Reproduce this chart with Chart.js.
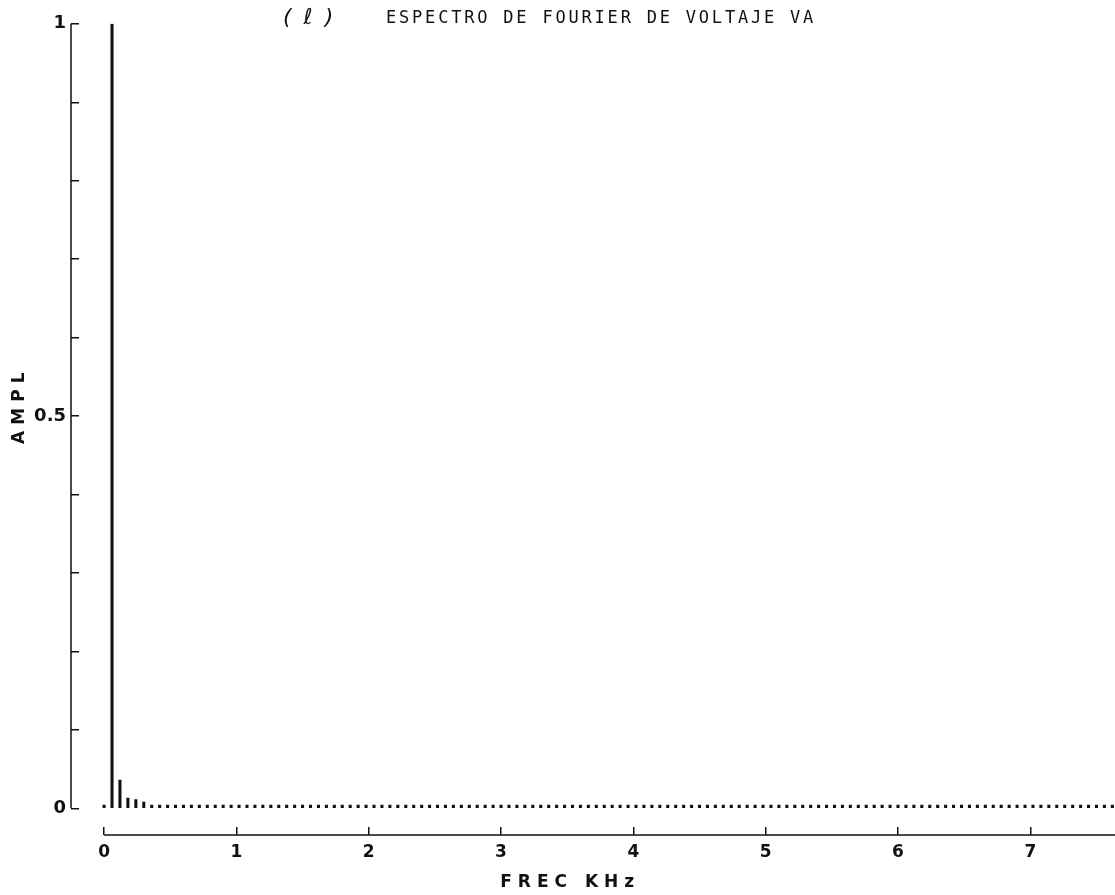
<!DOCTYPE html>
<html>
<head>
<meta charset="utf-8">
<script src="https://cdn.jsdelivr.net/npm/chart.js@4/dist/chart.umd.min.js"></script>
<style>
  body { margin: 0; background: #fff; }
  #spectro { display: block; }
</style>
</head>
<body>
<canvas id="spectro" width="1115" height="895"></canvas>
<script>
// espectro de Fourier del voltaje VA, armonicos de 60 Hz
const fundamentalKHz = 0.06;
const amplitudes = [
    0.004, 1.0, 0.036, 0.013, 0.011, 0.008, 0.004, 0.004,
    0.004, 0.004, 0.004, 0.004, 0.004, 0.004, 0.004, 0.004,
    0.004, 0.004, 0.004, 0.004, 0.004, 0.004, 0.004, 0.004,
    0.004, 0.004, 0.004, 0.004, 0.004, 0.004, 0.004, 0.004,
    0.004, 0.004, 0.004, 0.004, 0.004, 0.004, 0.004, 0.004,
    0.004, 0.004, 0.004, 0.004, 0.004, 0.004, 0.004, 0.004,
    0.004, 0.004, 0.004, 0.004, 0.004, 0.004, 0.004, 0.004,
    0.004, 0.004, 0.004, 0.004, 0.004, 0.004, 0.004, 0.004,
    0.004, 0.004, 0.004, 0.004, 0.004, 0.004, 0.004, 0.004,
    0.004, 0.004, 0.004, 0.004, 0.004, 0.004, 0.004, 0.004,
    0.004, 0.004, 0.004, 0.004, 0.004, 0.004, 0.004, 0.004,
    0.004, 0.004, 0.004, 0.004, 0.004, 0.004, 0.004, 0.004,
    0.004, 0.004, 0.004, 0.004, 0.004, 0.004, 0.004, 0.004,
    0.004, 0.004, 0.004, 0.004, 0.004, 0.004, 0.004, 0.004,
    0.004, 0.004, 0.004, 0.004, 0.004, 0.004, 0.004, 0.004,
    0.004, 0.004, 0.004, 0.004, 0.004, 0.004, 0.004, 0.004
];
const xTicks = [0, 1, 2, 3, 4, 5, 6, 7];
const xTickLabels = ['0', '1', '2', '3', '4', '5', '6', '7'];
const yTicks = [0, 0.1, 0.2, 0.3, 0.4, 0.5, 0.6, 0.7, 0.8, 0.9, 1];
const yTickLabels = ['0', '', '', '', '', '0.5', '', '', '', '', '1'];

const puntos = amplitudes.map((a, n) => ({ x: n * fundamentalKHz, y: a }));

// ejes dibujados a mano como en el trazador
const ejes = {
    id: 'ejes',
    afterDraw(chart) {
        const ctx = chart.ctx;
        const x = chart.scales.x;
        const y = chart.scales.y;
        const area = chart.chartArea;
        ctx.save();
        ctx.strokeStyle = '#111';
        ctx.lineWidth = 1.5;
        ctx.beginPath();
        ctx.moveTo(area.left, y.getPixelForValue(1));
        ctx.lineTo(area.left, y.getPixelForValue(0));
        ctx.moveTo(x.getPixelForValue(0), area.bottom);
        ctx.lineTo(area.right, area.bottom);
        ctx.stroke();

        ctx.fillStyle = '#111';
        // titulo
        ctx.font = 'italic 22px "DejaVu Sans"';
        ctx.letterSpacing = '12px';
        ctx.textBaseline = 'middle';
        ctx.textAlign = 'left';
        ctx.fillText('(ℓ)', 283, 18);
        ctx.font = '17px "DejaVu Sans Mono"';
        ctx.letterSpacing = '2.8px';
        ctx.fillText('ESPECTRO DE FOURIER DE VOLTAJE VA', 386, 19);

        // titulos de ejes
        ctx.font = 'bold 17px "DejaVu Sans"';
        ctx.letterSpacing = '6px';
        ctx.textAlign = 'center';
        ctx.fillText('FREC KHz', x.getPixelForValue(3.5) + 3, 883);
        ctx.translate(20, y.getPixelForValue(0.51));
        ctx.rotate(-Math.PI / 2);
        ctx.fillText('AMPL', 3, 0);
        ctx.restore();
    }
};

new Chart(document.getElementById('spectro'), {
    type: 'bar',
    data: {
        datasets: [{
            label: 'Amplitud',
            data: puntos,
            backgroundColor: '#111',
            borderWidth: 0,
            barThickness: 2.4
        }]
    },
    options: {
        responsive: false,
        animation: false,
        layout: { padding: { top: 18, left: 0, right: 0, bottom: 0 } },
        plugins: {
            legend: { display: false },
            tooltip: { enabled: false }
        },
        scales: {
            x: {
                type: 'linear',
                min: -0.25,
                max: 7.64,
                offset: false,
                afterFit: s => { s.height = 60; },
                afterBuildTicks: s => { s.ticks = xTicks.map(v => ({ value: v })); },
                border: { display: false },
                grid: {
                    offset: false,
                    drawOnChartArea: false,
                    drawTicks: true,
                    tickLength: -8,
                    color: '#111',
                    lineWidth: 1.5
                },
                ticks: {
                    padding: 15,
                    maxRotation: 0,
                    autoSkip: false,
                    color: '#111',
                    font: { family: 'DejaVu Sans', size: 17, weight: 'bold' },
                    callback: (v, i) => xTickLabels[i]
                }
            },
            y: {
                min: -0.034,
                max: 1,
                afterFit: s => { s.width = 71; },
                afterBuildTicks: s => { s.ticks = yTicks.map(v => ({ value: v })); },
                border: { display: false },
                grid: {
                    drawOnChartArea: false,
                    drawTicks: true,
                    tickLength: -8,
                    color: '#111',
                    lineWidth: 1.5
                },
                ticks: {
                    padding: 13,
                    autoSkip: false,
                    color: '#111',
                    font: { family: 'DejaVu Sans', size: 18, weight: 'bold' },
                    callback: (v, i) => yTickLabels[i]
                }
            }
        }
    },
    plugins: [ejes]
});
</script>
</body>
</html>
